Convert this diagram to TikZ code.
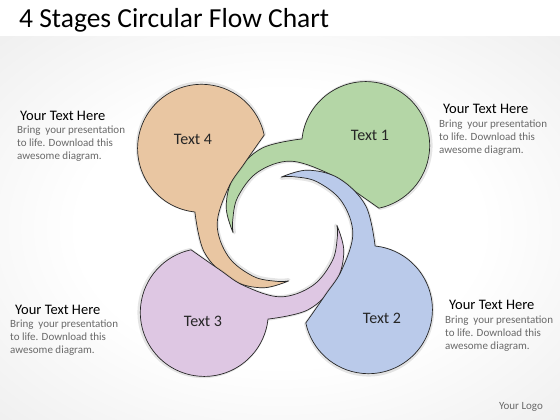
\documentclass[tikz,border=0pt]{standalone}
\usepackage{fontspec}
\setmainfont{Carlito}
\definecolor{cgreen}{RGB}{180,214,166}
\definecolor{corange}{RGB}{233,198,162}
\definecolor{cblue}{RGB}{186,202,234}
\definecolor{cpink}{RGB}{222,199,227}
\definecolor{cbody}{RGB}{105,105,105}
\pgfdeclareradialshading{bgshade}{\pgfpoint{0bp}{0bp}}{color(0bp)=(white); color(18bp)=(white); color(50bp)=(black!11); color(75bp)=(black!15)}
\newcommand\petaloutline{(138:52) -- plot[smooth, tension=0.6] coordinates {(138:52) (113:63) (87:74) (60:84) (33.3:91.7)}
  arc[start angle=128, end angle=-124, radius=64]
  -- plot[smooth, tension=0.6] coordinates {(-33.5:96.2) (-14:77) (8:70) (40:68) (70:63) (100:57) (125:53) (138:52)} -- cycle}
\newcommand\petalshape[2]{%
\begin{scope}[shift={(285,191)}, rotate=#1]
\draw[petalshadow] \petaloutline;
\filldraw[petal, fill=#2] \petaloutline;
\end{scope}}
\begin{document}
\begin{tikzpicture}[x=1pt,y=1pt,
  petal/.style={draw=black!85, line width=0.7pt, line join=round},
  petalshadow/.style={draw=black, opacity=0.10, line width=3.5pt, line join=round, shift={(0.8,-0.8)}},
  lbl/.style={font=\fontsize{16}{18}\selectfont, text=black!85},
  head/.style={anchor=west, inner sep=0pt, font=\fontsize{14.5}{16}\selectfont},
  body/.style={anchor=north west, align=left, text=cbody, inner sep=0pt, font=\fontsize{11}{13}\selectfont}]
\useasboundingbox (0,0) rectangle (560,420);
\fill[white] (0,383) rectangle (560,420);
\shade[shading=bgshade] (0,0) rectangle (560,383);
\node[anchor=west, inner sep=0pt, font=\fontsize{27.5}{30}\selectfont] (title) at (19,400) {4 Stages Circular Flow Chart};
\petalshape{46}{cgreen}
\petalshape{136}{corange}
\petalshape{226}{cpink}
\petalshape{316}{cblue}
\node[lbl] (t1) at (370,285) {Text 1};
\node[lbl] (t2) at (382,102) {Text 2};
\node[lbl] (t3) at (203,99) {Text 3};
\node[lbl] (t4) at (193,281) {Text 4};
\node[head] (h4) at (20,304) {Your Text Here};
\node[body] (b4) at (17,294) {Bring \ your presentation\\to life. Download this\\awesome diagram.};
\node[head] (h1) at (443,311) {Your Text Here};
\node[body] (b1) at (439,300) {Bring \ your presentation\\to life. Download this\\awesome diagram.};
\node[head] (h3) at (15,110) {Your Text Here};
\node[body] (b3) at (10,100) {Bring \ your presentation\\to life. Download this\\awesome diagram.};
\node[head] (h2) at (449,115) {Your Text Here};
\node[body] (b2) at (445,104) {Bring \ your presentation\\to life. Download this\\awesome diagram.};
\node[text=cbody, font=\fontsize{11}{12}\selectfont] (logo) at (521,13) {Your Logo};
\end{tikzpicture}
\end{document}
